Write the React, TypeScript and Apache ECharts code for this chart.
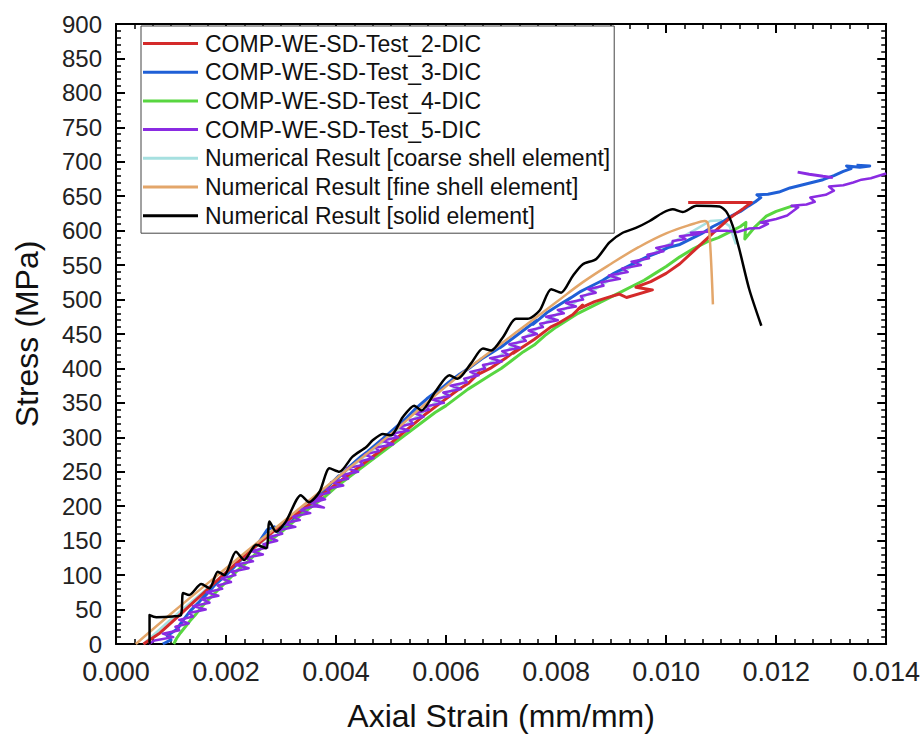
import React, { useEffect, useRef } from "react";
import * as echarts from "echarts";

const seriesNames = [
  "COMP-WE-SD-Test_2-DIC",
  "COMP-WE-SD-Test_3-DIC",
  "COMP-WE-SD-Test_4-DIC",
  "COMP-WE-SD-Test_5-DIC",
  "Numerical Result [coarse shell element]",
  "Numerical Result [fine shell element]",
  "Numerical Result [solid element]",
];

const seriesColors = ["#d42a2a", "#1f5fd6", "#58d640", "#8a2be2", "#a6e0e0", "#e3a66a", "#000000"];

const test2 = [
  [0.0005, 0], [0.0008, 16], [0.0011, 38], [0.0014, 60], [0.0017, 82], [0.002, 104], [0.0023, 125],
  [0.0026, 146], [0.0029, 166], [0.0032, 184], [0.0035, 202], [0.0038, 220], [0.0041, 238], [0.0044, 256],
  [0.0047, 274], [0.005, 292], [0.0053, 312], [0.0056, 332], [0.0059, 350], [0.0062, 368], [0.0064, 378],
  [0.0066, 394], [0.0065, 388], [0.0068, 400], [0.0071, 416], [0.0073, 428], [0.00722, 422],
  [0.0076, 442], [0.0079, 460], [0.00805, 466], [0.0083, 478], [0.00848, 492], [0.0084, 486],
  [0.0087, 497], [0.0089, 502], [0.00915, 508], [0.00928, 503], [0.00975, 514], [0.00945, 518],
  [0.00972, 526], [0.01, 538], [0.01025, 552], [0.0106, 578], [0.0109, 600], [0.01115, 618],
  [0.0114, 632], [0.01155, 641], [0.0104, 641],
];

const test3 = [
  [0.00085, 0], [0.001, 6], [0.00093, 12], [0.00112, 22], [0.00122, 34], [0.00116, 28], [0.00135, 48],
  [0.0015, 60], [0.00165, 74], [0.0016, 68], [0.0018, 86], [0.002, 100], [0.0022, 116], [0.00214, 112],
  [0.0024, 132], [0.0026, 148], [0.00275, 166], [0.00288, 170], [0.00296, 160], [0.00305, 168],
  [0.00325, 182], [0.00345, 198], [0.0034, 192], [0.00365, 212], [0.00385, 228], [0.00405, 244],
  [0.004, 238], [0.00425, 258], [0.00445, 272], [0.00465, 284], [0.00458, 280], [0.00485, 298],
  [0.00505, 312], [0.00525, 326], [0.00518, 320], [0.00545, 342], [0.00565, 356], [0.00585, 368],
  [0.00578, 362], [0.00605, 380], [0.00625, 392], [0.00645, 402], [0.00638, 398], [0.00665, 414],
  [0.00685, 424], [0.00705, 434], [0.00698, 430], [0.00725, 446], [0.00745, 458], [0.00765, 470],
  [0.00758, 464], [0.00785, 482], [0.00805, 492], [0.00825, 502], [0.00818, 498], [0.00845, 512],
  [0.00865, 520], [0.00885, 528], [0.00905, 538], [0.00925, 546], [0.00945, 554], [0.00965, 562],
  [0.00985, 568], [0.01005, 576], [0.01025, 580], [0.01045, 588], [0.01065, 596], [0.01085, 606],
  [0.01105, 614], [0.0112, 622], [0.01135, 628], [0.0115, 636], [0.01162, 642], [0.01172, 648],
  [0.01165, 652], [0.01185, 653], [0.01205, 656], [0.01225, 662], [0.01245, 666], [0.01265, 670],
  [0.01285, 674], [0.01305, 680], [0.01322, 686], [0.01336, 690], [0.01328, 694], [0.01352, 692],
  [0.0137, 694], [0.01346, 695],
];

const test4 = [
  [0.00105, 0], [0.0011, 8], [0.00117, 16], [0.00125, 24], [0.00135, 34], [0.00146, 44], [0.00158, 56],
  [0.0017, 66], [0.00185, 78], [0.002, 90], [0.0022, 106], [0.0024, 120], [0.0026, 136], [0.0028, 150],
  [0.003, 162], [0.0032, 176], [0.0034, 190], [0.0036, 202], [0.0038, 214], [0.004, 228], [0.0042, 240],
  [0.0044, 252], [0.0046, 264], [0.0048, 276], [0.005, 288], [0.0052, 300], [0.0054, 312], [0.0056, 324],
  [0.0058, 336], [0.006, 346], [0.0062, 358], [0.0064, 370], [0.0066, 380], [0.0068, 390], [0.007, 400],
  [0.0072, 412], [0.0074, 424], [0.0076, 434], [0.0078, 448], [0.008, 460], [0.0082, 470], [0.0084, 480],
  [0.0086, 488], [0.0088, 496], [0.009, 504], [0.0092, 512], [0.0094, 520], [0.0096, 528], [0.0098, 538],
  [0.01, 548], [0.01025, 562], [0.0105, 574], [0.01075, 584], [0.01095, 590], [0.01115, 598],
  [0.01135, 606], [0.01145, 612], [0.01143, 588], [0.01162, 606], [0.01182, 621], [0.012, 628],
  [0.0123, 636],
];

const test5 = [
  [0.0006, 0], [0.0007, 5], [0.00104, 10], [0.00085, 15], [0.00115, 20], [0.00108, 25], [0.00132, 30],
  [0.00115, 35], [0.0014, 40], [0.00133, 45], [0.00163, 50], [0.0014, 55], [0.0017, 60], [0.00156, 65],
  [0.00186, 70], [0.00165, 75], [0.00193, 80], [0.00185, 85], [0.00209, 90], [0.00192, 95],
  [0.00217, 100], [0.0021, 105], [0.00241, 110], [0.00218, 115], [0.00249, 120], [0.00236, 125],
  [0.00267, 130], [0.00246, 135], [0.00275, 140], [0.00268, 145], [0.00293, 150], [0.00277, 155],
  [0.00302, 160], [0.00295, 165], [0.00326, 170], [0.00303, 175], [0.00334, 180], [0.00322, 185],
  [0.00353, 190], [0.00332, 195], [0.00361, 200], [0.00378, 198], [0.00347, 207], [0.00376, 212],
  [0.00355, 205], [0.0038, 210], [0.00363, 215], [0.00388, 220], [0.00382, 225], [0.00413, 230],
  [0.00391, 235], [0.00422, 240], [0.00409, 245], [0.0044, 250], [0.0042, 255], [0.00449, 260],
  [0.00443, 265], [0.00468, 270], [0.00452, 275], [0.00478, 280], [0.00472, 285], [0.00504, 290],
  [0.00482, 295], [0.00513, 300], [0.00501, 305], [0.00532, 310], [0.00511, 315], [0.0054, 320],
  [0.00534, 325], [0.00559, 330], [0.00543, 335], [0.00569, 340], [0.00564, 345], [0.00596, 350],
  [0.00575, 355], [0.00607, 360], [0.00595, 365], [0.00627, 370], [0.00608, 375], [0.00638, 380],
  [0.00633, 385], [0.00659, 390], [0.00644, 395], [0.00671, 400], [0.00667, 405], [0.00701, 410],
  [0.0068, 415], [0.00713, 420], [0.00702, 425], [0.00734, 430], [0.00715, 435], [0.00745, 440],
  [0.00739, 445], [0.00765, 450], [0.0075, 455], [0.00776, 460], [0.00771, 465], [0.00803, 470],
  [0.00782, 475], [0.00814, 480], [0.00803, 485], [0.00836, 490], [0.00818, 495], [0.00849, 500],
  [0.00845, 505], [0.00872, 510], [0.00858, 515], [0.00886, 520], [0.00882, 525], [0.00916, 530],
  [0.00896, 535], [0.0093, 540], [0.0092, 545], [0.00954, 550], [0.00937, 555], [0.00969, 560],
  [0.00966, 565], [0.00995, 570], [0.00982, 575], [0.01011, 580], [0.01012, 585], [0.01035, 588],
  [0.01025, 592], [0.0106, 595], [0.01045, 597], [0.0109, 599], [0.01075, 600], [0.0111, 600],
  [0.0113, 598], [0.0115, 603], [0.0117, 604], [0.01185, 610], [0.01172, 612], [0.012, 617],
  [0.0122, 622], [0.0124, 634], [0.01228, 636], [0.01255, 638], [0.0127, 642], [0.01262, 648],
  [0.0129, 652], [0.01305, 658], [0.01296, 664], [0.01322, 666], [0.0134, 670], [0.01355, 674],
  [0.01372, 676], [0.01388, 680], [0.014, 683],
];

const test5Tail = [[0.01239, 685], [0.0126, 682], [0.01285, 679], [0.01303, 677]];

const coarseShell = [
  [0.0005, 0], [0.001, 36], [0.002, 104], [0.003, 172], [0.004, 240], [0.005, 302], [0.006, 362],
  [0.007, 420], [0.008, 478], [0.009, 530], [0.01, 578], [0.0105, 600], [0.0108, 614], [0.011, 615],
  [0.01115, 607], [0.01127, 580],
];

const fineShell = [
  [0.00036, 0], [0.001, 44], [0.002, 110], [0.003, 175], [0.004, 240], [0.005, 305], [0.0055, 340],
  [0.006, 374], [0.0065, 406], [0.007, 436], [0.0075, 466], [0.008, 496], [0.0085, 526], [0.009, 552],
  [0.0095, 576], [0.01, 596], [0.0105, 610], [0.0107, 614], [0.01076, 610], [0.0108, 580], [0.01085, 493],
];

const solidElement = [
  [0.00061, 0], [0.00061, 42], [0.00073, 39], [0.00103, 40], [0.00118, 42], [0.00122, 74], [0.00133, 71],
  [0.00155, 87], [0.0017, 81], [0.00185, 105], [0.00197, 100], [0.00218, 134], [0.00233, 122],
  [0.00255, 144], [0.00273, 139], [0.00279, 178], [0.00291, 163], [0.00309, 178], [0.00336, 216],
  [0.00351, 206], [0.0037, 221], [0.00388, 255], [0.00406, 250], [0.0043, 272], [0.00455, 286],
  [0.00467, 296], [0.00485, 305], [0.005, 303], [0.00521, 329], [0.00542, 346], [0.00555, 339],
  [0.00582, 368], [0.00606, 390], [0.00621, 385], [0.00645, 407], [0.00667, 429], [0.00682, 426],
  [0.00703, 445], [0.00727, 472], [0.00748, 472], [0.0077, 484], [0.00791, 515], [0.00809, 510],
  [0.0083, 534], [0.00848, 551], [0.00873, 559], [0.00897, 583], [0.00921, 597], [0.00945, 604],
  [0.0097, 614], [0.00994, 626], [0.01012, 631], [0.0103, 627], [0.01055, 636], [0.01097, 635],
  [0.01109, 628], [0.01121, 607], [0.01133, 573], [0.01151, 515], [0.01173, 462],
];

const seriesData = [test2, test3, test4, test5, coarseShell, fineShell, solidElement];
const lineWidths = [3, 3, 3, 2.5, 2.5, 2.5, 2.5];
const smoothness = [0, 0, 0, 0, 0, 0.4, 0.25];
const drawOrder = [3, 2, 2.5, 4, 1, 6, 7];

const FONT = "Arial, 'Liberation Sans', Helvetica, sans-serif";

export default function App() {
  const ref = useRef<HTMLDivElement>(null);
  useEffect(() => {
    document.body.style.margin = "0";
    if (!ref.current) return;
    const chart = echarts.init(ref.current, null, { renderer: "svg" });
    const baseSeries: any[] = seriesData.map((d, i) => ({
      name: seriesNames[i],
      type: "line",
      data: d,
      showSymbol: false,
      symbol: "none",
      smooth: smoothness[i],
      color: seriesColors[i],
      lineStyle: { color: seriesColors[i], width: lineWidths[i], join: "round" },
      z: drawOrder[i],
    }));
    baseSeries.push({
      name: seriesNames[3],
      type: "line",
      data: test5Tail,
      showSymbol: false,
      symbol: "none",
      color: seriesColors[3],
      lineStyle: { color: seriesColors[3], width: 3 },
      z: 4,
    });
    const commonX = {
      type: "value",
      min: 0,
      max: 0.014,
      interval: 0.002,
      splitLine: { show: false },
      axisLine: { show: true, onZero: false, lineStyle: { color: "#000", width: 2 } },
      axisTick: { show: true, inside: true, length: 9, lineStyle: { color: "#000", width: 2 } },
      minorTick: { show: true, splitNumber: 6, length: 5, lineStyle: { color: "#000", width: 1.5 } },
    };
    const commonY = {
      type: "value",
      min: 0,
      max: 900,
      interval: 50,
      splitLine: { show: false },
      axisLine: { show: true, onZero: false, lineStyle: { color: "#000", width: 2 } },
      axisTick: { show: true, inside: true, length: 9, lineStyle: { color: "#000", width: 2 } },
      minorTick: { show: true, splitNumber: 5, length: 5, lineStyle: { color: "#000", width: 1.5 } },
    };
    chart.setOption({
      animation: false,
      backgroundColor: "#fff",
      grid: { left: 116, right: 36, top: 24, bottom: 91, containLabel: false },
      legend: {
        data: seriesNames,
        orient: "vertical",
        left: 141,
        top: 26,
        icon: "rect",
        itemWidth: 55,
        itemHeight: 3,
        itemGap: 5.7,
        padding: [6, 4, 6, 2],
        borderColor: "#444",
        borderWidth: 1,
        backgroundColor: "#fff",
        selectedMode: false,
        textStyle: { fontSize: 23, fontFamily: FONT, color: "#111", lineHeight: 23, padding: [0, 0, 0, 2] },
        z: 20,
      },
      xAxis: [
        {
          ...commonX,
          position: "bottom",
          name: "Axial Strain (mm/mm)",
          nameLocation: "middle",
          nameGap: 56,
          nameTextStyle: { fontSize: 32, fontFamily: FONT, color: "#111" },
          axisLabel: {
            fontSize: 27,
            fontFamily: FONT,
            color: "#222",
            margin: 14,
            formatter: (v: number) => v.toFixed(3),
          },
        },
        { ...commonX, position: "top", axisLabel: { show: false } },
      ],
      yAxis: [
        {
          ...commonY,
          position: "left",
          name: "Stress (MPa)",
          nameLocation: "middle",
          nameGap: 73,
          nameTextStyle: { fontSize: 32, fontFamily: FONT, color: "#111" },
          axisLabel: { fontSize: 24, fontFamily: FONT, color: "#222", margin: 14 },
        },
        { ...commonY, position: "right", axisLabel: { show: false } },
      ],
      series: baseSeries,
    });
    return () => chart.dispose();
  }, []);
  return <div ref={ref} style={{ width: 923, height: 737 }} />;
}
